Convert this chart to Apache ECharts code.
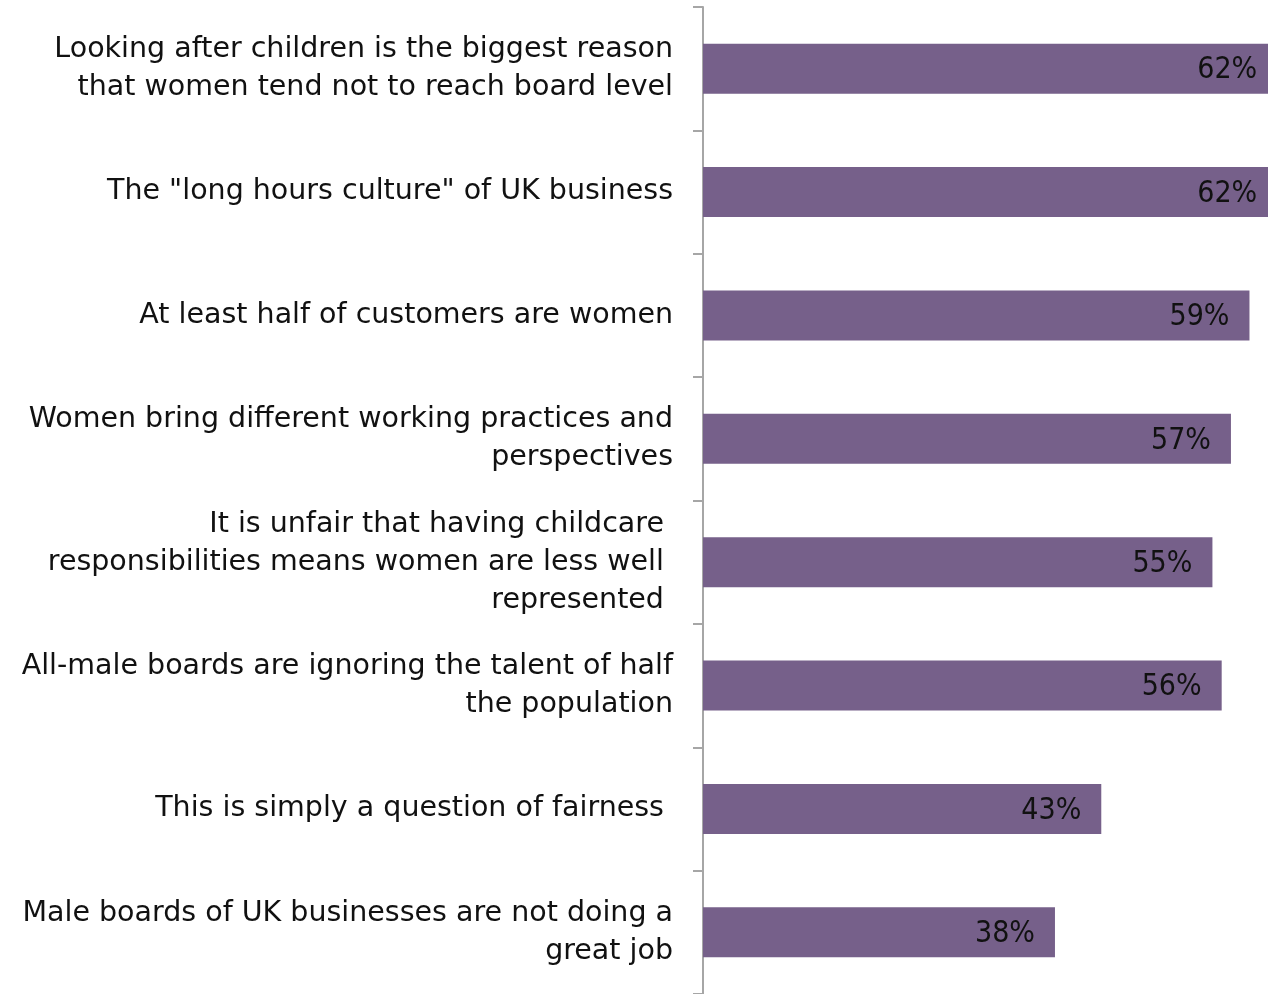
<!DOCTYPE html>
<html>
<head>
<meta charset="utf-8">
<script src="https://cdn.jsdelivr.net/npm/echarts@6/dist/echarts.min.js"></script>
<style>
  html, body { margin: 0; padding: 0; background: #fff; }
  #chart { width: 1268px; height: 994px; }
</style>
</head>
<body>
<div id="chart"></div>
<script>
// Survey statements, listed top to bottom
const categories = [
  'Looking after children is the biggest reason\nthat women tend not to reach board level',
  'The "long hours culture" of UK business',
  'At least half of customers are women',
  'Women bring different working practices and\nperspectives',
  'It is unfair that having childcare \nresponsibilities means women are less well \nrepresented ',
  'All-male boards are ignoring the talent of half\nthe population',
  'This is simply a question of fairness ',
  'Male boards of UK businesses are not doing a\ngreat job'
];

// Share of respondents agreeing (%)
const agreePct = [62, 62, 59, 57, 55, 56, 43, 38];

const LABEL_FONT = 'DejaVu Sans';
const VALUE_FONT = '"Liberation Sans Narrow", "DejaVu Sans Condensed", sans-serif';

const chart = echarts.init(document.getElementById('chart'), null, { renderer: 'canvas' });

chart.setOption({
  animation: false,
  backgroundColor: '#ffffff',
  // plot area runs off the right edge, so the longest bars are cut by the frame
  grid: { left: 703, top: 7, right: 0, height: 992 },
  xAxis: {
    type: 'value',
    min: 0,
    max: 61,
    show: false
  },
  yAxis: {
    type: 'category',
    inverse: true,
    data: categories,
    boundaryGap: true,
    axisLine: { show: true, lineStyle: { color: '#a6a6a6', width: 2 } },
    axisTick: { show: true, inside: false, length: 10, lineStyle: { color: '#a6a6a6', width: 2 } },
    axisLabel: {
      margin: 30,
      align: 'right',
      color: '#111111',
      fontFamily: LABEL_FONT,
      fontSize: 28.5,
      lineHeight: 38,
      padding: [5, 0, 0, 0]
    },
    splitLine: { show: false }
  },
  series: [{
    type: 'bar',
    data: agreePct,
    barWidth: 50,
    clip: false,
    itemStyle: { color: '#76608a' },
    label: {
      show: true,
      position: 'insideRight',
      distance: 20,
      offset: [0, 2],
      formatter: '{c}%',
      color: '#111111',
      fontFamily: VALUE_FONT,
      fontSize: 30
    }
  }]
});
</script>
</body>
</html>
